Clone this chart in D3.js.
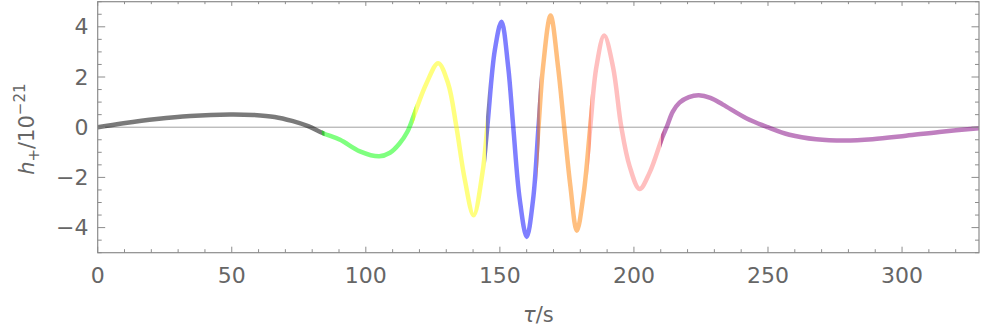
<!DOCTYPE html>
<html>
<head>
<meta charset="utf-8">
<script src="https://cdn.jsdelivr.net/npm/d3@7"></script>
<style>
    body { margin: 0; background: #fff; }
    svg { display: block; }
    .tick-label { font-family: "DejaVu Sans", sans-serif; font-size: 22px; fill: #666; }
    .axis-label { font-family: "DejaVu Sans", sans-serif; font-size: 21px; fill: #666; }
</style>
</head>
<body>
<div id="chart"></div>
<script>
// tau (s) and h+ (1e-21)
const tau = [0, 9.6, 22, 34.5, 49.4, 58, 66, 72.5, 78.5, 84.1, 90.4, 97.8, 105, 109, 112.5, 115.5, 118,
    122.6, 127, 130.7, 133.8, 136.9, 140.2, 143.5, 145.3, 148.1, 150.6, 153.1, 155, 157.4, 160,
    162.4, 164.4, 166.1, 168.9, 171.7, 174, 176.3, 178.7, 181.3, 183.7, 186, 188.9, 192.2, 195.3,
    198.4, 202.1, 205.8, 210.6, 212.2, 214.5, 217, 220.5, 224.2, 228.5, 233.2, 241.9, 249.9, 258,
    268, 278.5, 289, 301.5, 313.9, 328.7]
const hPlus = [0, 0.16, 0.33, 0.45, 0.51, 0.49, 0.41, 0.25, 0.04, -0.24, -0.5, -0.96, -1.16, -1.02, -0.66, -0.18, 0.49,
    1.74, 2.55, 1.74, 0, -2.08, -3.51, -1.82, 0, 3.06, 4.2, 2.4, 0, -2.87, -4.37,
    -2.87, 0, 2.4, 4.45, 2.4, 0, -2.35, -4.13, -2.6, 0, 2.4, 3.65, 2.4, 0,
    -1.56, -2.46, -1.82, -0.4, 0, 0.62, 0.98, 1.2, 1.27, 1.17, 0.9, 0.36, 0, -0.3,
    -0.48, -0.53, -0.48, -0.34, -0.19, -0.04]

// coloured pieces of the waveform
const segmentBreaks = [0, 84.1, 118, 145.3, 164.4, 183.5, 210.6, 328.7]
const segmentColours = ['#000000', '#00ff00', '#ffff00', '#0000ff', '#ff8000', '#ff8080', '#800080']

const xTicks = [0, 50, 100, 150, 200, 250, 300]
const yTicks = [-4, -2, 0, 2, 4]

const width = 981
const height = 327
const margin = { left: 97.7, right: 2, top: 1.7, bottom: 74.3 }

const svg = d3.select('#chart')
    .append('svg')
    .attr('width', width)
    .attr('height', height)

const x = d3.scaleLinear()
    .domain([0, 328.7])
    .range([margin.left, width - margin.right])
const y = d3.scaleLinear()
    .domain([-5, 5])
    .range([height - margin.bottom, margin.top])

const points = tau.map((t, i) => [t, hPlus[i]])

// zero line
svg.append('line')
    .attr('x1', x.range()[0])
    .attr('x2', x.range()[1])
    .attr('y1', y(0))
    .attr('y2', y(0))
    .attr('stroke', '#a0a0a0')
    .attr('stroke-width', 1)

const line = d3.line()
    .x(d => x(d[0]))
    .y(d => y(d[1]))
    .curve(d3.curveCatmullRom.alpha(0.5))

const defs = svg.append('defs')
const overlap = 0.5

segmentColours.forEach((colour, i) => {
    const x0 = x(Math.max(0, segmentBreaks[i] - overlap))
    const x1 = x(Math.min(328.7, segmentBreaks[i + 1] + overlap))
    defs.append('clipPath')
        .attr('id', `seg${i}`)
        .append('rect')
        .attr('x', x0)
        .attr('width', x1 - x0)
        .attr('y', 0)
        .attr('height', height - margin.bottom)

    svg.append('path')
        .datum(points)
        .attr('clip-path', `url(#seg${i})`)
        .attr('d', line)
        .attr('fill', 'none')
        .attr('stroke', colour)
        .attr('stroke-opacity', i === 0 ? 0.52 : 0.5)
        .attr('stroke-width', 4.5)
})

// frame with ticks on every side
const frame = svg.append('g')
frame.append('rect')
    .attr('x', x.range()[0])
    .attr('y', y.range()[1])
    .attr('width', x.range()[1] - x.range()[0])
    .attr('height', y.range()[0] - y.range()[1])
    .attr('fill', 'none')
    .attr('stroke', '#8c8c8c')
    .attr('stroke-width', 1.2)

const xMinor = d3.range(0, 329, 10).filter(v => v % 50 !== 0)
const yMinor = d3.range(-5, 5.01, 0.5).filter(v => v % 2 !== 0)

const tickStyle = sel => sel.attr('stroke', '#8c8c8c').attr('stroke-width', 1)

const xTickData = xTicks.map(v => ({ v, len: 6 })).concat(xMinor.map(v => ({ v, len: 3.5 })))
const yTickData = yTicks.map(v => ({ v, len: 7.5 })).concat(yMinor.map(v => ({ v, len: 4 })))

frame.selectAll('line.xb')
    .data(xTickData)
    .enter()
    .append('line')
    .attr('x1', d => x(d.v)).attr('x2', d => x(d.v))
    .attr('y1', y.range()[0]).attr('y2', d => y.range()[0] - d.len)
    .call(tickStyle)
frame.selectAll('line.xt')
    .data(xTickData)
    .enter()
    .append('line')
    .attr('x1', d => x(d.v)).attr('x2', d => x(d.v))
    .attr('y1', y.range()[1]).attr('y2', d => y.range()[1] + d.len * 0.7)
    .call(tickStyle)
frame.selectAll('line.yl')
    .data(yTickData)
    .enter()
    .append('line')
    .attr('y1', d => y(d.v)).attr('y2', d => y(d.v))
    .attr('x1', x.range()[0]).attr('x2', d => x.range()[0] + d.len)
    .call(tickStyle)
frame.selectAll('line.yr')
    .data(yTickData)
    .enter()
    .append('line')
    .attr('y1', d => y(d.v)).attr('y2', d => y(d.v))
    .attr('x1', x.range()[1]).attr('x2', d => x.range()[1] - d.len)
    .call(tickStyle)

// tick labels
const fmt = v => v < 0 ? `\u2212${Math.abs(v)}` : `${v}`
svg.selectAll('text.xl')
    .data(xTicks)
    .enter()
    .append('text')
    .attr('class', 'tick-label')
    .attr('x', d => x(d))
    .attr('y', 282.5)
    .attr('text-anchor', 'middle')
    .text(fmt)
svg.selectAll('text.yl')
    .data(yTicks)
    .enter()
    .append('text')
    .attr('class', 'tick-label')
    .attr('x', 88.5)
    .attr('y', d => y(d) + 7.5)
    .attr('text-anchor', 'end')
    .text(fmt)

// axis titles
const xTitle = svg.append('text')
    .attr('class', 'axis-label')
    .attr('x', (x.range()[0] + x.range()[1]) / 2)
    .attr('y', 321.5)
    .attr('text-anchor', 'middle')
xTitle.append('tspan').attr('font-style', 'italic').text('τ')
xTitle.append('tspan').text('/s')

const yTitle = svg.append('text')
    .attr('class', 'axis-label')
    .attr('transform', `translate(33.5, ${(y.range()[0] + y.range()[1]) / 2 + 2}) rotate(-90)`)
    .attr('text-anchor', 'middle')
yTitle.append('tspan').attr('font-style', 'italic').text('h')
yTitle.append('tspan').attr('font-size', '15px').attr('dy', 5).text('+')
yTitle.append('tspan').attr('dy', -5).text('/10')
yTitle.append('tspan').attr('font-size', '15px').attr('dy', -9).text('\u221221')
</script>
</body>
</html>
